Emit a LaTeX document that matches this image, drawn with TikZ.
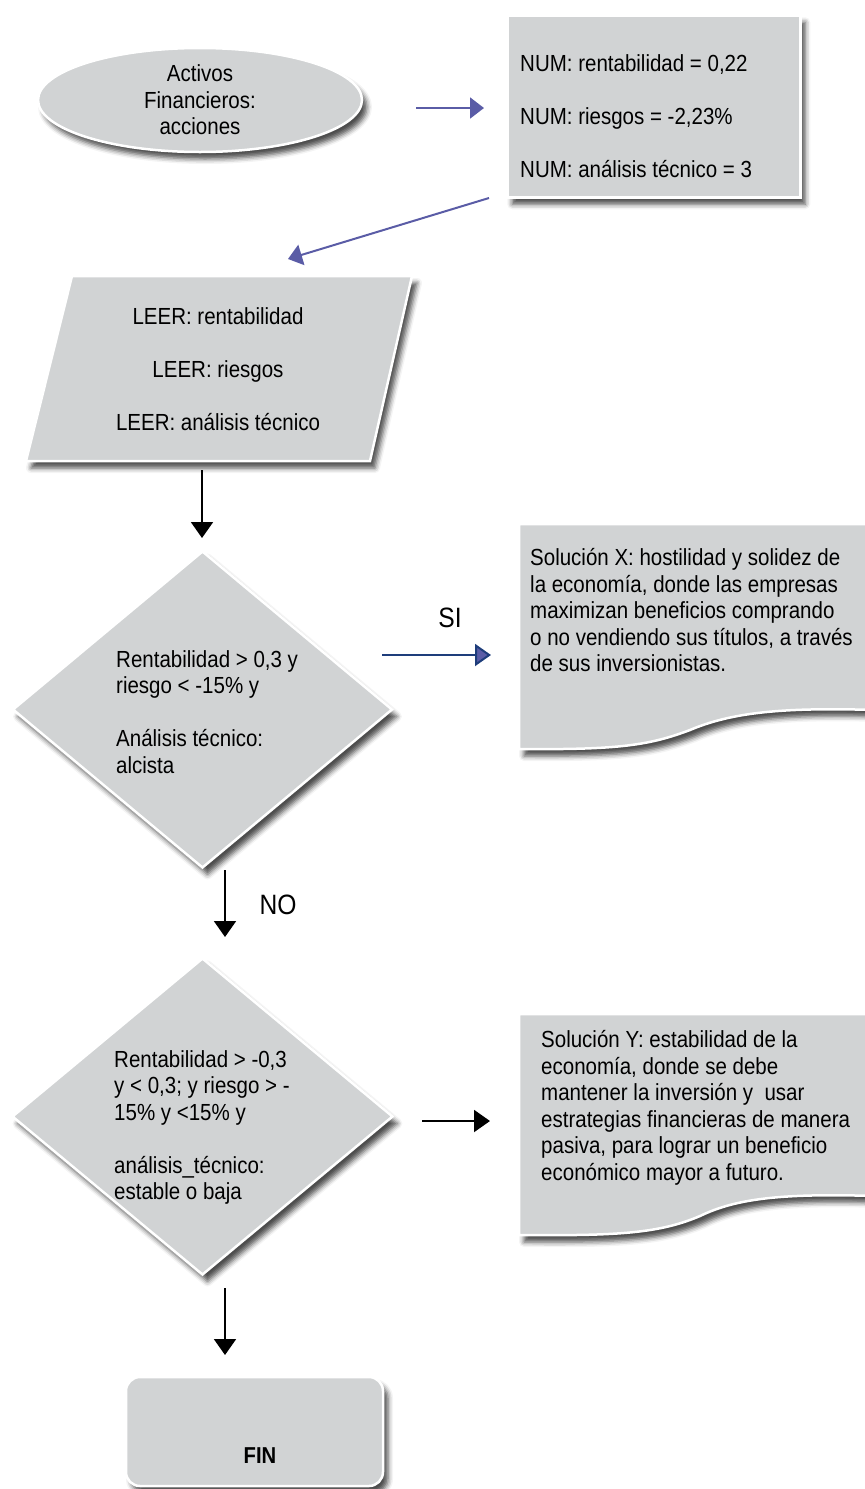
\documentclass[tikz,border=0pt]{standalone}
\usepackage{fontspec}
\setmainfont{Liberation Sans}[FakeStretch=0.88]
\usetikzlibrary{shapes.geometric,arrows.meta,shadows,shadows.blur}

\definecolor{boxgray}{HTML}{D1D3D4}
\definecolor{violetarrow}{HTML}{5A5CA6}
\definecolor{darkblue}{HTML}{1E3D7B}

\begin{document}
\begin{tikzpicture}[x=1pt,y=-1pt,
  shp/.style={fill=boxgray, draw=white, line width=2.5pt,
    blur shadow={shadow xshift=5pt, shadow yshift=-7pt, shadow blur radius=5pt, shadow opacity=70}},
  txt/.style={font=\fontsize{23.3}{26.5}\selectfont, align=left, inner sep=0pt},
  lbl/.style={font=\fontsize{28}{32}\selectfont, inner sep=0pt},
  varrow/.style={draw=violetarrow, line width=2pt, -{Triangle[length=14pt,width=21pt]}},
  karrow/.style={draw=black, line width=2pt, -{Triangle[length=16pt,width=22pt]}},
  siarrow/.style={draw=darkblue, line width=2pt, -{Triangle[length=16pt,width=22pt,fill=violetarrow]}}
]
\useasboundingbox (0,0) rectangle (865,1489);
\clip (0,0) rectangle (865,1489);

% start ellipse
\node[shp, ellipse, minimum width=324pt, minimum height=104pt, txt, align=center] (act) at (200,100)
  {Activos\\Financieros:\\acciones};

% NUM box
\node[shp, rectangle, minimum width=293pt, minimum height=182pt, anchor=north west, inner sep=0pt] (num) at (506,14) {};
\node[txt, anchor=west] (numtxt) at (520,116)
  {NUM: rentabilidad = 0,22\\[26.5pt]NUM: riesgos = -2,23\%\\[26.5pt]NUM: análisis técnico = 3};

% parallelogram
\draw[shp] (72,276) -- (412,276) -- (370,461) -- (26,461) -- cycle;
\node[txt, align=center] (leer) at (218,369)
  {LEER: rentabilidad\\[26.5pt]LEER: riesgos\\[26.5pt]LEER: análisis técnico};

% diamond 1
\node[shp, diamond, minimum width=380pt, minimum height=317pt, inner sep=0pt] (d1) at (202.5,709.5) {};
\node[txt, anchor=west] (d1txt) at (116,712)
  {Rentabilidad > 0,3 y\\riesgo < -15\% y\\[26.5pt]Análisis técnico:\\alcista};

% document X
\draw[shp] (519,524) -- (875,524) -- (875,710)
  .. controls (780,707) and (730,713) .. (690,730)
  .. controls (650,745) and (620,750) .. (519,749) -- cycle;
\node[txt, anchor=west] (solx) at (530,610.5)
  {Solución X: hostilidad y solidez de\\la economía, donde las empresas\\maximizan beneficios comprando\\o no vendiendo sus títulos, a través\\de sus inversionistas.};

% diamond 2
\node[shp, diamond, minimum width=381pt, minimum height=317pt, inner sep=0pt] (d2) at (202.5,1116.5) {};
\node[txt, anchor=west] (d2txt) at (114,1127.5)
  {Rentabilidad > -0,3\\y < 0,3; y riesgo > -\\15\% y <15\% y\\[26.5pt]análisis\_técnico:\\estable o baja};

% document Y
\draw[shp] (519,1014) -- (875,1014) -- (875,1196)
  .. controls (780,1193) and (735,1199) .. (700,1216)
  .. controls (660,1233) and (620,1236) .. (519,1235) -- cycle;
\node[txt, anchor=west] (soly) at (541,1108)
  {Solución Y: estabilidad de la\\economía, donde se debe\\mantener la inversión y\ \ usar\\estrategias financieras de manera\\pasiva, para lograr un beneficio\\económico mayor a futuro.};

% FIN
\draw[shp, rounded corners=14pt] (126,1377) rectangle (383,1486);
\node[txt, font=\fontsize{23}{26}\selectfont\bfseries] (fin) at (260,1456) {FIN};

% labels
\node[lbl] (si) at (450,618) {SI};
\node[lbl] (no) at (278,905) {NO};

% connector end points
\coordinate (a1s) at (416,108); \coordinate (a1e) at (484,108);
\coordinate (a2s) at (489,198); \coordinate (a2e) at (288,259);
\coordinate (a3s) at (202,470); \coordinate (a3e) at (202,538);
\coordinate (a4s) at (382,655); \coordinate (a4e) at (491,655);
\coordinate (a5s) at (225,870); \coordinate (a5e) at (225,937);
\coordinate (a6s) at (422,1121); \coordinate (a6e) at (490,1121);
\coordinate (a7s) at (225,1288); \coordinate (a7e) at (225,1355);

\draw[varrow] (a1s) -- (a1e);
\draw[varrow] (a2s) -- (a2e);
\draw[karrow] (a3s) -- (a3e);
\draw[siarrow] (a4s) -- (a4e);
\draw[karrow] (a5s) -- (a5e);
\draw[karrow] (a6s) -- (a6e);
\draw[karrow] (a7s) -- (a7e);
\end{tikzpicture}
\end{document}
